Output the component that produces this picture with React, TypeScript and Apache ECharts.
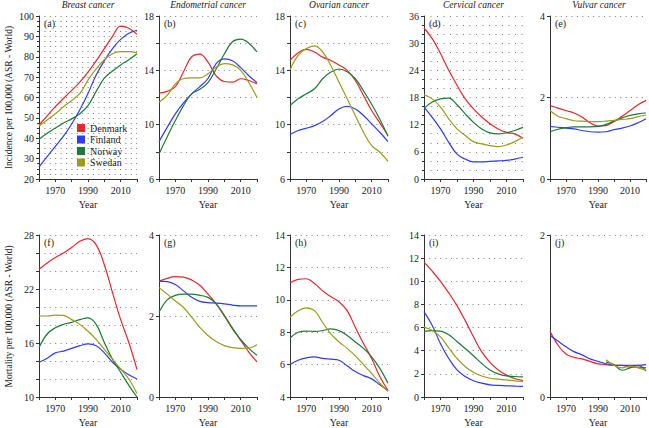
import React, { useEffect, useRef } from "react";
import * as echarts from "echarts";

const YEARS = [1960, 1965, 1970, 1975, 1980, 1985, 1990, 1995, 2000, 2005, 2010, 2015, 2020];
const COUNTRIES = ["Denmark", "Finland", "Norway", "Swedan"];
const COLORS = ["#e8262b", "#2f3cf2", "#1e7a36", "#9a9a1c"];
const X_LABELS = [1970, 1990, 2010];

// Incidence
const breastIncDenmark = [46.5, 51, 55.5, 59.5, 63.5, 67.5, 72.5, 78, 84, 90, 95, 94, 91];
const breastIncFinland = [26, 31, 36, 41, 47, 54, 62, 71, 78, 84, 88.5, 91.5, 93];
const breastIncNorway = [39.5, 42.5, 45, 47.5, 49.5, 52, 56, 63, 69.5, 73, 76, 78.5, 81.5];
const breastIncSweden = [46, 49, 52, 55.5, 58.5, 62, 68.5, 74, 78.5, 81.5, 82.5, 82.5, 82];

const endoIncDenmark = [12.32, 12.45, 12.8, 13.9, 15.0, 15.2, 14.6, 13.6, 13.18, 13.13, 13.38, 13.25, 13.0];
const endoIncFinland = [8.75, 9.8, 10.8, 11.6, 12.27, 12.8, 13.4, 14.5, 14.85, 14.7, 14.2, 13.6, 13.1];
const endoIncNorway = [7.85, 9.1, 10.3, 11.4, 12.27, 12.6, 13.1, 14.1, 15.2, 16.1, 16.3, 16.0, 15.35];
const endoIncSweden = [11.65, 12.15, 13.0, 13.4, 13.45, 13.45, 13.75, 14.25, 14.5, 14.4, 14.0, 13.1, 12.0];

const ovaIncDenmark = [14.73, 15.3, 15.54, 15.35, 14.97, 14.73, 14.4, 14.0, 13.25, 12.15, 11.04, 10.13, 9.2];
const ovaIncFinland = [9.27, 9.57, 9.74, 9.93, 10.23, 10.67, 11.16, 11.34, 11.16, 10.67, 10.06, 9.44, 8.75];
const ovaIncNorway = [11.41, 11.9, 12.27, 12.64, 13.38, 13.87, 14.1, 13.9, 13.38, 12.5, 11.5, 10.4, 9.15];
const ovaIncSweden = [14.04, 15.1, 15.6, 15.8, 15.35, 14.36, 13.13, 11.9, 10.67, 9.44, 8.46, 7.97, 7.3];

const cervIncDenmark = [33.35, 31, 27.7, 24, 20.7, 17.7, 15.5, 13.7, 12.2, 11.06, 10.3, 9.96, 9.0];
const cervIncFinland = [15.86, 13.6, 11.06, 8.1, 5.5, 4.4, 3.8, 3.8, 3.9, 4.0, 4.1, 4.4, 4.8];
const cervIncNorway = [15.6, 17, 17.7, 17.85, 16.4, 14.4, 12.5, 11.06, 10.2, 9.96, 10.2, 10.7, 11.4];
const cervIncSweden = [18.6, 17.7, 15.9, 13.3, 11.06, 9.6, 8.26, 7.75, 7.37, 7.15, 7.5, 8.26, 9.2];

const vulvIncDenmark = [1.8, 1.74, 1.68, 1.62, 1.52, 1.38, 1.3, 1.31, 1.41, 1.54, 1.68, 1.82, 1.93];
const vulvIncFinland = [1.29, 1.27, 1.25, 1.23, 1.19, 1.16, 1.15, 1.16, 1.21, 1.25, 1.3, 1.38, 1.48];
const vulvIncNorway = [1.16, 1.22, 1.26, 1.28, 1.28, 1.28, 1.29, 1.34, 1.42, 1.5, 1.56, 1.6, 1.62];
const vulvIncSweden = [1.68, 1.54, 1.48, 1.43, 1.42, 1.41, 1.41, 1.42, 1.44, 1.46, 1.48, 1.53, 1.57];

// Mortality
const breastMortDenmark = [24.2, 24.9, 25.5, 26, 26.6, 27.3, 27.6, 26.9, 24.7, 21.6, 18.6, 16.05, 13.05];
const breastMortFinland = [13.86, 14.3, 14.9, 15.1, 15.4, 15.7, 15.9, 15.7, 14.9, 13.86, 13.1, 12.46, 12.0];
const breastMortNorway = [15.5, 17.0, 17.7, 18.07, 18.3, 18.6, 18.8, 18.07, 16.05, 14.2, 12.75, 11.3, 10.0];
const breastMortSweden = [19.0, 19.0, 19.1, 19.07, 18.6, 18.07, 17.3, 16.4, 15.3, 14.2, 13.1, 12.0, 10.4];

const endoMortDenmark = [2.86, 2.93, 2.97, 2.96, 2.89, 2.76, 2.54, 2.3, 2.01, 1.7, 1.4, 1.11, 0.87];
const endoMortFinland = [2.86, 2.85, 2.78, 2.62, 2.46, 2.36, 2.33, 2.32, 2.3, 2.27, 2.25, 2.25, 2.25];
const endoMortNorway = [2.09, 2.4, 2.51, 2.54, 2.54, 2.51, 2.46, 2.3, 2.01, 1.68, 1.42, 1.2, 1.03];
const endoMortSweden = [2.7, 2.54, 2.37, 2.21, 1.97, 1.72, 1.52, 1.37, 1.27, 1.22, 1.2, 1.21, 1.29];

const ovaMortDenmark = [11.05, 11.26, 11.3, 11.0, 10.55, 10.2, 9.87, 9.33, 8.3, 7.3, 6.38, 5.26, 4.4];
const ovaMortFinland = [6.0, 6.27, 6.42, 6.48, 6.38, 6.34, 6.27, 5.93, 5.57, 5.32, 5.12, 4.75, 4.4];
const ovaMortNorway = [7.64, 8.0, 8.07, 8.05, 8.1, 8.2, 8.1, 7.8, 7.4, 7.0, 6.48, 5.77, 4.85];
const ovaMortSweden = [8.92, 9.33, 9.5, 9.33, 8.6, 7.9, 7.4, 7.0, 6.54, 6.0, 5.46, 4.85, 4.35];

const cervMortDenmark = [11.66, 10.87, 10.0, 9.0, 7.9, 6.6, 5.2, 3.9, 3.0, 2.34, 1.9, 1.6, 1.42];
const cervMortFinland = [7.38, 6.18, 4.6, 3.33, 2.34, 1.77, 1.4, 1.2, 1.05, 1.0, 0.97, 0.94, 0.91];
const cervMortNorway = [5.67, 5.73, 5.7, 5.38, 4.8, 4.19, 3.56, 2.9, 2.34, 2.0, 1.82, 1.77, 1.74];
const cervMortSweden = [6.04, 5.75, 5.19, 4.25, 3.33, 2.62, 2.14, 1.82, 1.62, 1.54, 1.48, 1.4, 1.34];

const vulvMortDenmark = [0.81, 0.64, 0.53, 0.49, 0.47, 0.44, 0.41, 0.4, 0.39, 0.39, 0.37, 0.37, 0.36];
const vulvMortFinland = [0.76, 0.69, 0.62, 0.56, 0.52, 0.47, 0.44, 0.41, 0.39, 0.39, 0.39, 0.39, 0.4];
const vulvMortNorway = [null, null, null, null, null, null, null, 0.43, 0.4, 0.33, 0.36, 0.39, 0.32];
const vulvMortSweden = [null, null, null, null, null, null, null, 0.46, 0.39, 0.36, 0.38, 0.36, 0.33];

const PANELS = [
  { title: "Breast cancer", label: "(a)", row: 0, col: 0, min: 20, max: 100, interval: 10, step: 1, minor: 4, dot: 5.4,
    data: [breastIncDenmark, breastIncFinland, breastIncNorway, breastIncSweden] },
  { title: "Endometrial cancer", label: "(b)", row: 0, col: 1, min: 6, max: 18, interval: 2, step: 2, minor: 0, dot: 5.4,
    data: [endoIncDenmark, endoIncFinland, endoIncNorway, endoIncSweden] },
  { title: "Ovarian cancer", label: "(c)", row: 0, col: 2, min: 6, max: 18, interval: 2, step: 2, minor: 0, dot: 5.4,
    data: [ovaIncDenmark, ovaIncFinland, ovaIncNorway, ovaIncSweden] },
  { title: "Cervical cancer", label: "(d)", row: 0, col: 3, min: 0, max: 36, interval: 6, step: 1, minor: 3, dot: 6.5,
    data: [cervIncDenmark, cervIncFinland, cervIncNorway, cervIncSweden] },
  { title: "Vulvar cancer", label: "(e)", row: 0, col: 4, min: 0, max: 4, interval: 2, step: 1, minor: 0, dot: 5.4,
    data: [vulvIncDenmark, vulvIncFinland, vulvIncNorway, vulvIncSweden] },
  { title: "", label: "(f)", row: 1, col: 0, min: 10, max: 28, interval: 2, step: 3, minor: 0, dot: 5.4,
    data: [breastMortDenmark, breastMortFinland, breastMortNorway, breastMortSweden] },
  { title: "", label: "(g)", row: 1, col: 1, min: 0, max: 4, interval: 2, step: 1, minor: 0, dot: 5.4,
    data: [endoMortDenmark, endoMortFinland, endoMortNorway, endoMortSweden] },
  { title: "", label: "(h)", row: 1, col: 2, min: 4, max: 14, interval: 2, step: 1, minor: 0, dot: 5.4,
    data: [ovaMortDenmark, ovaMortFinland, ovaMortNorway, ovaMortSweden] },
  { title: "", label: "(i)", row: 1, col: 3, min: 0, max: 14, interval: 2, step: 1, minor: 0, dot: 5.4,
    data: [cervMortDenmark, cervMortFinland, cervMortNorway, cervMortSweden] },
  { title: "", label: "(j)", row: 1, col: 4, min: 0, max: 2, interval: 2, step: 1, minor: 0, dot: 5.4,
    data: [vulvMortDenmark, vulvMortFinland, vulvMortNorway, vulvMortSweden] },
];

const Y_NAMES = ["Incidence per 100,000 (ASR - World)", "Mortality per 100,000 (ASR - World)"];

const COL_LEFT = [39, 159, 290, 424, 550];
const COL_WIDTH = [98, 98, 98, 99, 98];
const ROW_TOP = [16, 235];
const GRID_H = 163;
const FONT = "'Liberation Serif', 'DejaVu Serif', serif";

export default function App() {
  const ref = useRef<HTMLDivElement>(null);

  useEffect(() => {
    if (!ref.current) return;
    const chart = echarts.init(ref.current, null, { renderer: "svg" });

    const grid: any[] = [];
    const xAxis: any[] = [];
    const yAxis: any[] = [];
    const series: any[] = [];
    const graphic: any[] = [];

    PANELS.forEach((p, i) => {
      const left = COL_LEFT[p.col];
      const width = COL_WIDTH[p.col];
      const top = ROW_TOP[p.row];
      const dotStyle = { color: "#7a7a7a", type: [1, p.dot - 1], width: 1 };
      grid.push({ left, top, width, height: GRID_H, containLabel: false });
      xAxis.push({
        type: "value",
        gridIndex: i,
        min: 1960,
        max: 2020,
        interval: 10,
        name: "Year",
        nameLocation: "middle",
        nameGap: 20,
        nameTextStyle: { fontSize: 10, color: "#222", fontFamily: FONT },
        axisLine: { show: true, lineStyle: { color: "#333", width: 1 } },
        axisTick: { show: true, length: 3, lineStyle: { color: "#333" } },
        axisLabel: {
          fontSize: 10,
          color: "#222",
          fontFamily: FONT,
          margin: 6,
          formatter: (v: number) => (X_LABELS.includes(Math.round(v)) ? String(Math.round(v)) : ""),
        },
        splitLine: { show: false },
      });
      const min = p.min;
      const interval = p.interval;
      const step = p.step;
      yAxis.push({
        type: "value",
        gridIndex: i,
        min: p.min,
        max: p.max,
        interval: p.interval,
        axisLine: { show: true, lineStyle: { color: "#333", width: 1 } },
        axisTick: { show: true, length: 3, lineStyle: { color: "#333" } },
        axisLabel: {
          fontSize: 10,
          color: "#222",
          fontFamily: FONT,
          margin: 5,
          formatter: (v: number) => (Math.round((v - min) / interval) % step === 0 ? String(v) : ""),
        },
        splitLine: { show: true, lineStyle: dotStyle },
        minorTick: { show: p.minor > 0, splitNumber: p.minor > 0 ? p.minor : 5, length: 2, lineStyle: { color: "#333" } },
        minorSplitLine: { show: p.minor > 0, lineStyle: dotStyle },
      });
      p.data.forEach((vals, k) => {
        series.push({
          type: "line",
          name: COUNTRIES[k],
          xAxisIndex: i,
          yAxisIndex: i,
          data: YEARS.map((y, j) => [y, vals[j]]),
          smooth: 0.4,
          showSymbol: false,
          symbol: "none",
          connectNulls: false,
          lineStyle: { width: 1.2, color: COLORS[k] },
          itemStyle: { color: COLORS[k] },
          z: 3,
        });
      });
      if (p.title) {
        graphic.push({
          type: "text",
          style: {
            text: p.title,
            x: left + width / 2,
            y: 5,
            textAlign: "center",
            textVerticalAlign: "middle",
            fontSize: 9.5,
            fontStyle: "italic",
            fontFamily: FONT,
            fill: "#222",
          },
        });
      }
      graphic.push({
        type: "text",
        style: {
          text: p.label,
          x: left + 5,
          y: top + 7,
          textAlign: "left",
          textVerticalAlign: "middle",
          fontSize: 10,
          fontFamily: FONT,
          fill: "#222",
        },
      });
    });

    Y_NAMES.forEach((name, r) => {
      graphic.push({
        type: "text",
        x: 9,
        y: ROW_TOP[r] + GRID_H / 2,
        rotation: Math.PI / 2,
        style: {
          text: name,
          x: 0,
          y: 0,
          textAlign: "center",
          textVerticalAlign: "middle",
          fontSize: 9.5,
          fontFamily: FONT,
          fill: "#222",
        },
      });
    });

    chart.setOption({
      animation: false,
      backgroundColor: "#ffffff",
      color: COLORS,
      grid,
      xAxis,
      yAxis,
      series,
      graphic,
      legend: {
        data: COUNTRIES.map((c) => ({ name: c, icon: "rect" })),
        orient: "vertical",
        left: 77,
        top: 123,
        itemWidth: 8,
        itemHeight: 8,
        itemGap: 1.5,
        padding: 0,
        textStyle: { fontSize: 10, color: "#222", fontFamily: FONT },
        selectedMode: false,
      },
    });

    return () => chart.dispose();
  }, []);

  return (
    <div
      ref={ref}
      style={{ position: "fixed", left: 0, top: 0, width: 649, height: 428 }}
    />
  );
}
